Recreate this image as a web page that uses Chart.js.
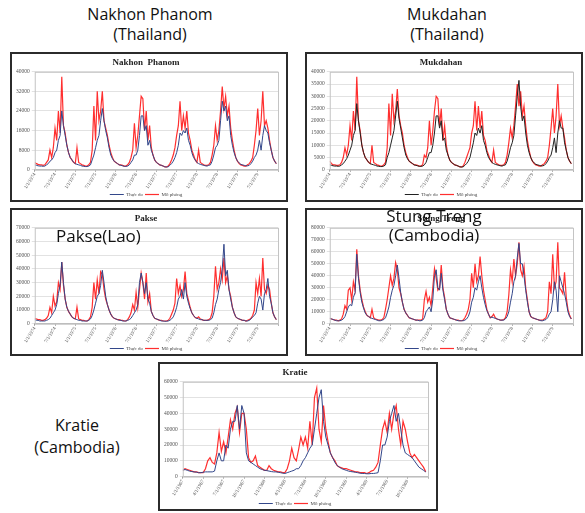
<!DOCTYPE html>
<html>
<head>
<meta charset="utf-8">
<script src="https://cdn.jsdelivr.net/npm/chart.js@4.4.1/dist/chart.umd.min.js"></script>
<style>
	body { margin: 0; background: #fff; width: 585px; height: 513px; position: relative; overflow: hidden; }
	.panel { position: absolute; box-sizing: border-box; border: 2px solid #2b2b2b; background: #fff; }
	.inner { position: relative; width: 100%; height: 100%; }
	.label { position: absolute; font-family: 'Open Sans', sans-serif; color: #111; text-align: center; white-space: nowrap; }
</style>
</head>
<body>

<div class="label" style="left:50px;top:4px;width:200px;font-size:16px;line-height:20px">Nakhon Phanom<br>(Thailand)</div>
<div class="label" style="left:347px;top:4px;width:200px;font-size:16px;line-height:20px">Mukdahan<br>(Thailand)</div>

<div class="panel" style="left:10px;top:52px;width:278px;height:150px"><div class="inner"><canvas id="nakhon"></canvas></div></div>
<div class="panel" style="left:305px;top:52px;width:278px;height:150px"><div class="inner"><canvas id="mukdahan"></canvas></div></div>
<div class="panel" style="left:10px;top:208px;width:278px;height:148px"><div class="inner"><canvas id="pakse"></canvas></div></div>
<div class="panel" style="left:305px;top:208px;width:278px;height:148px"><div class="inner"><canvas id="stungtreng"></canvas></div></div>
<div class="panel" style="left:158px;top:362px;width:280px;height:149px"><div class="inner"><canvas id="kratie"></canvas></div></div>

<div class="label" style="left:56px;top:225px;font-size:17px;line-height:22px;text-align:left">Pakse(Lao)</div>
<div class="label" style="left:334px;top:206px;width:200px;font-size:17px;line-height:19px">Stung Treng<br>(Cambodia)</div>
<div class="label" style="left:17px;top:414px;width:120px;font-size:16px;line-height:22px">Kratie<br>(Cambodia)</div>

<script>
// discharge in thousand m3/s, two points per month, 1974-1979
const halfMonthTicks = ['1/1/1974', '7/1/1974', '1/1/1975', '7/1/1975', '1/1/1976', '7/1/1976',
	'1/1/1977', '7/1/1977', '1/1/1978', '7/1/1978', '1/1/1979', '7/1/1979'];
const kratieTicks = ['1/1/1967', '4/1/1967', '7/1/1967', '10/1/1967', '1/1/1968', '4/1/1968',
	'7/1/1968', '10/1/1968', '1/1/1969', '4/1/1969', '7/1/1969', '10/1/1969'];

const nakhonObs = [
	2, 1.8, 1.6, 1.5, 1.5, 1.4, 1.5, 2, 2.5, 3.5, 4, 5, 7, 8, 12, 14, 24, 18, 14, 10, 7, 5, 4, 3,
	2.5, 2.2, 2, 1.8, 1.5, 1.4, 1.3, 1.3, 1.5, 2, 4, 6, 9, 12, 14, 20, 25, 20, 16, 13, 9, 6, 4.5, 3.5,
	3, 2.5, 2, 1.8, 1.6, 1.4, 1.4, 1.5, 2, 3, 4, 6, 6, 8, 14, 22, 22, 16, 18, 10, 12, 8, 6, 4,
	3, 2.5, 2, 1.8, 1.5, 1.2, 1.1, 1.2, 1.8, 2.5, 3.5, 5, 7, 10, 15, 14, 16, 15, 17, 12, 10, 7, 5, 4,
	3, 2.5, 2.2, 2, 1.8, 1.6, 1.5, 1.8, 2, 3.5, 6, 9, 10, 12, 20, 28, 24, 26, 20, 22, 14, 10, 7, 5,
	3.5, 2.8, 2.2, 2, 1.8, 1.6, 1.6, 1.8, 2.5, 3.5, 5, 6, 8, 12, 8, 14, 18, 16, 15, 11, 8, 5, 3.5, 2.5
];
const nakhonSim = [
	3, 2.5, 2.2, 2, 2, 1.8, 2, 3, 4, 8, 5, 9, 17, 12, 24, 15, 38, 18, 15, 10, 7, 5, 4, 3,
	2.5, 9, 3, 2.5, 2, 1.8, 1.5, 1.5, 2, 3, 8, 26, 12, 32, 20, 24, 32, 20, 17, 14, 10, 7, 5, 3.5,
	3, 2.5, 2, 2, 1.8, 1.5, 1.5, 2, 3, 5, 8, 19, 9, 14, 22, 30, 29, 16, 24, 12, 18, 9, 6, 4,
	3, 2.5, 2, 1.8, 1.5, 1.2, 1.2, 1.5, 2.5, 4, 6, 9, 14, 18, 28, 16, 22, 17, 24, 15, 12, 8, 6, 4,
	3, 8, 3, 2.5, 2, 1.8, 1.8, 2, 3, 6, 10, 18, 12, 16, 24, 34, 25, 30, 22, 26, 17, 12, 8, 5,
	3.5, 2.5, 2, 1.8, 1.5, 1.5, 2, 2.5, 3.5, 5, 10, 16, 25, 14, 20, 32, 18, 20, 17, 12, 8, 5, 3.5, 2.5
];

const mukdahanObs = [
	2, 1.8, 1.6, 1.5, 1.5, 1.4, 1.5, 2, 2.5, 3.5, 4.5, 6, 8, 10, 14, 16, 27, 20, 15, 10, 7, 5, 4, 3,
	2.5, 2.2, 2, 1.8, 1.5, 1.4, 1.3, 1.3, 1.5, 2, 5, 7, 10, 13, 16, 22, 28, 21, 17, 13, 9, 6, 4.5, 3.5,
	3, 2.5, 2, 1.8, 1.6, 1.4, 1.4, 1.5, 2, 3, 5, 7, 7, 10, 15, 22, 22, 17, 20, 12, 13, 8, 6, 4,
	3, 2.5, 2, 1.8, 1.5, 1.2, 1.1, 1.2, 1.8, 2.5, 3.5, 5, 8, 11, 15, 14, 17, 15, 18, 12, 10, 7, 5, 4,
	3, 2.5, 2.2, 2, 1.8, 1.6, 1.5, 1.8, 2, 3.5, 6, 9, 11, 14, 22, 30, 36.5, 26, 20, 22, 15, 10, 7, 5,
	3.5, 2.8, 2.2, 2, 1.8, 1.6, 1.6, 1.8, 2.5, 3.5, 5, 6, 9, 13, 7, 15, 20, 17, 17, 11, 8, 5, 3.5, 2.5
];
const mukdahanSim = [
	3.5, 2.5, 2, 2, 1.8, 1.8, 2, 3, 5, 9, 6, 10, 18, 12, 24, 16, 38, 20, 16, 10, 7, 5, 4, 3,
	2.5, 10, 3, 2.5, 2, 1.8, 1.5, 1.5, 2, 3, 9, 27, 14, 31, 20, 24, 33, 22, 18, 15, 10, 7, 5, 3.5,
	3, 2.5, 2, 2, 1.8, 1.5, 1.5, 2, 6, 5, 9, 20, 10, 16, 24, 30, 29, 18, 25, 12, 18, 10, 6, 4,
	3, 2.5, 2, 1.8, 1.5, 1.2, 1.2, 1.5, 3, 5, 7, 9, 15, 18, 28, 16, 26, 17, 24, 14, 12, 8, 6, 4,
	3, 8, 3, 2.5, 2, 1.8, 1.8, 2, 3, 6, 11, 17, 13, 18, 26, 35, 26, 32, 22, 26, 18, 12, 8, 5,
	3.5, 2.5, 2, 1.8, 1.5, 1.5, 2, 2.5, 3.5, 5, 10, 17, 25, 15, 22, 35, 18, 22, 17, 13, 8, 5, 3.5, 2.5
];

const pakseObs = [
	3, 2.5, 2.5, 2, 2, 2, 2, 2.5, 3, 4, 6, 8, 10, 14, 22, 28, 45, 30, 18, 12, 9, 7, 5, 4,
	3.5, 3, 2.5, 2.5, 2, 2, 2, 2, 2.5, 3.5, 6, 10, 15, 20, 22, 28, 39, 30, 20, 14, 10, 7, 5, 4,
	3.5, 3, 2.5, 2.5, 2, 2, 2, 2.5, 3, 4, 6, 8, 10, 14, 30, 37, 30, 22, 30, 18, 15, 9, 6, 4,
	3.5, 3, 2.5, 2, 2, 1.8, 1.8, 2, 2.5, 3.5, 5, 8, 12, 18, 20, 25, 18, 30, 20, 15, 11, 8, 6, 4.5,
	4, 3.5, 3, 3, 2.5, 2.5, 2.5, 2.5, 3, 4, 8, 14, 18, 25, 30, 40, 58, 35, 39, 25, 18, 12, 8, 5,
	4, 3.5, 3, 2.5, 2.5, 2, 2, 2.5, 3.5, 5, 6, 8, 15, 20, 18, 10, 22, 25, 33, 20, 15, 8, 5, 3
];
const pakseSim = [
	4, 3.5, 3, 3, 2.5, 2.5, 3, 4, 6, 12, 8, 20, 13, 16, 30, 25, 45, 28, 18, 12, 9, 7, 5, 4,
	3.5, 12, 3.5, 3, 2.5, 2.5, 2, 2, 3, 5, 12, 30, 18, 32, 22, 38, 36, 25, 18, 14, 10, 7, 5, 4,
	3.5, 3, 3, 2.5, 2.5, 2, 2, 3, 5, 8, 14, 10, 23, 12, 25, 37, 30, 18, 37, 16, 22, 9, 6, 4,
	3.5, 3, 2.5, 2.5, 2, 2, 2, 2.5, 4, 7, 10, 15, 33, 22, 28, 20, 25, 38, 22, 17, 12, 8, 6, 4.5,
	4, 5, 3.5, 3, 2.5, 2.5, 2.5, 3, 4, 8, 20, 42, 25, 30, 40, 32, 48, 30, 35, 25, 20, 12, 8, 5,
	4, 3.5, 3, 2.5, 2.5, 2, 2.5, 3, 4, 6, 10, 30, 22, 33, 20, 48, 25, 22, 28, 25, 15, 8, 5, 3
];

const stungObs = [
	4.5, 4, 3.5, 3, 2.5, 2.5, 2.5, 3, 4, 6, 10, 14, 16, 15, 22, 26, 58, 38, 26, 18, 13, 9, 7, 6,
	5, 4.5, 4, 3.5, 3, 2.5, 2.5, 3, 3.5, 5, 9, 14, 22, 28, 32, 40, 49, 38, 26, 18, 12, 9, 7, 5,
	4.5, 4, 3.5, 3, 3, 2.5, 2.5, 3, 5, 10, 12, 14, 10, 20, 40, 45, 30, 28, 42, 28, 20, 12, 8, 5,
	4.5, 4, 3.5, 3, 2.5, 2.5, 2.5, 2.5, 3, 4, 6, 10, 18, 22, 30, 28, 35, 40, 30, 22, 16, 11, 8, 5,
	5.5, 5, 4.5, 4, 3.5, 3, 3, 3, 4, 6, 10, 18, 25, 35, 40, 55, 67, 50, 50, 40, 28, 18, 10, 6,
	5, 4.5, 4, 3.5, 3, 2.5, 2.5, 3, 3.5, 5, 8, 10, 20, 35, 28, 10, 40, 35, 30, 25, 18, 10, 6, 4
];
const stungSim = [
	4.5, 4, 3.5, 3, 3, 2.5, 3, 4, 8, 15, 12, 28, 30, 20, 35, 28, 62, 40, 28, 20, 14, 10, 7, 6,
	5, 12, 5, 4, 3.5, 3, 3, 3.5, 5, 12, 20, 30, 40, 32, 38, 51, 45, 30, 25, 18, 12, 9, 7, 5,
	4.5, 4, 3.5, 3, 3, 3, 3, 4, 20, 27, 18, 22, 15, 30, 46, 38, 28, 30, 49, 30, 22, 12, 8, 5,
	4.5, 4, 3.5, 3, 3, 2.5, 2.5, 3, 5, 8, 12, 20, 42, 30, 50, 35, 40, 56, 40, 28, 20, 12, 8, 5,
	6, 8, 5, 4, 3.5, 3, 3, 3.5, 5, 10, 24, 45, 35, 54, 40, 50, 68, 45, 40, 48, 30, 20, 10, 6,
	5, 4.5, 4, 3.5, 3, 3, 3, 4, 5, 10, 35, 25, 58, 30, 35, 68, 30, 28, 25, 43, 22, 12, 7, 4
];

// Kratie, three points per month, 1967-1969
const kratieObs = [
	4, 4.5, 4, 3.5, 3.2, 3, 2.8, 2.5, 2.5, 2.8, 3, 3,
	3, 3, 3.5, 10, 15, 10, 10, 20, 18, 30, 35, 35,
	45, 30, 45, 40, 15, 10, 9, 8, 7, 6, 5, 4.5,
	4, 3.8, 3.5, 3.2, 3, 3, 2.8, 2.5, 2.2, 2, 2.5, 3,
	3.5, 4, 5, 5, 7, 10, 12, 15, 18, 20, 30, 40,
	50, 55, 35, 25, 20, 15, 12, 9, 7, 6, 5, 4.5,
	4, 3.5, 3.2, 3, 2.8, 2.5, 2.2, 2, 2, 1.8, 1.8, 2,
	2, 2.2, 2.5, 10, 20, 20, 25, 35, 40, 45, 35, 40,
	30, 20, 15, 14, 13, 12, 10, 8, 6, 5, 4, 3
];
const kratieSim = [
	4, 5, 4.5, 4, 3.5, 3, 3, 2.5, 2.5, 2.5, 5, 10,
	12, 9, 8, 15, 28, 16, 22, 15, 25, 36, 30, 40,
	44, 28, 40, 40, 30, 12, 9, 10, 13, 7, 6, 5,
	4, 4, 7, 5, 4, 3.5, 3, 3, 2.5, 2.5, 5, 10,
	18, 12, 10, 17, 25, 20, 25, 18, 35, 20, 50, 56,
	30, 22, 45, 30, 22, 15, 12, 10, 7, 6, 5.5, 5,
	5, 4.5, 4, 3.5, 3, 3, 2.5, 2.5, 2.5, 2, 2.5, 3.5,
	4, 6, 9, 20, 30, 35, 28, 40, 30, 40, 45, 30,
	20, 35, 30, 22, 15, 12, 14, 12, 10, 8, 6, 3
];

const plotFrame = {
	id: 'plotFrame',
	afterDraw(chart) {
		const {ctx, chartArea: a} = chart;
		ctx.save();
		ctx.strokeStyle = '#c4c4c4';
		ctx.lineWidth = 1;
		ctx.strokeRect(a.left + 0.5, a.top + 0.5, a.right - a.left, a.bottom - a.top);
		ctx.restore();
	}
};

const tinyFont = {size: 5.5, family: 'Liberation Serif'};

function river_chart(id, title, obs, sim, o) {
	new Chart(document.getElementById(id), {
		type: 'line',
		data: {
			datasets: [{
				label: 'Thực đo',
				data: obs.map((v, i) => ({x: i * o.step, y: v * 1000})),
				borderColor: o.obsColor,
				borderWidth: 1,
				pointRadius: 0,
			}, {
				label: 'Mô phỏng',
				data: sim.map((v, i) => ({x: i * o.step, y: v * 1000})),
				borderColor: 'rgba(255, 10, 10, 0.85)',
				borderWidth: 1.2,
				pointRadius: 0,
			}]
		},
		options: {
			animation: false,
			responsive: true,
			maintainAspectRatio: false,
			layout: {
				padding: {left: 2, right: 8, top: 0, bottom: 1}
			},
			scales: {
				x: {
					type: 'linear',
					min: 0,
					max: o.xMax,
					grid: {display: true, drawOnChartArea: false, tickLength: 2, color: '#999'},
					border: {color: '#bbb'},
					ticks: {
						stepSize: o.tickStep,
						autoSkip: false,
						minRotation: 58,
						maxRotation: 58,
						padding: 0,
						color: '#555',
						font: {size: 5, family: 'Liberation Serif'},
						callback: function (value) {
							return o.ticks[Math.round(value / o.tickStep)] || '';
						}
					}
				},
				y: {
					min: 0,
					max: o.yMax,
					grid: {color: '#e2e2e2', tickLength: 3},
					border: {display: false},
					ticks: {
						stepSize: o.yStep,
						padding: 2,
						color: '#555',
						font: tinyFont,
						callback: function (value) {
							return String(value);
						}
					}
				}
			},
			plugins: {
				title: {
					display: true,
					text: title,
					color: '#222',
					font: {size: 9, weight: 'bold', family: 'Liberation Serif'},
					padding: {top: 3, bottom: 4}
				},
				legend: {
					position: 'bottom',
					maxHeight: 9,
					labels: {
						usePointStyle: true,
						pointStyle: 'line',
						pointStyleWidth: 14,
						boxHeight: 4,
						padding: 2,
						color: '#444',
						font: {size: 5, family: 'Liberation Serif'}
					}
				},
				tooltip: {enabled: false}
			}
		},
		plugins: [plotFrame]
	});
}

const topOpts = {step: 0.5, xMax: 72, tickStep: 6, ticks: halfMonthTicks};

river_chart('nakhon', 'Nakhon  Phanom', nakhonObs, nakhonSim,
	{...topOpts, yMax: 40000, yStep: 8000, obsColor: '#33478a'});
river_chart('mukdahan', 'Mukdahan', mukdahanObs, mukdahanSim,
	{...topOpts, yMax: 40000, yStep: 5000, obsColor: '#222222'});
river_chart('pakse', 'Pakse', pakseObs, pakseSim,
	{...topOpts, yMax: 70000, yStep: 10000, obsColor: '#33478a'});
river_chart('stungtreng', 'Stung Treng', stungObs, stungSim,
	{...topOpts, yMax: 80000, yStep: 10000, obsColor: '#33478a'});
river_chart('kratie', 'Kratie', kratieObs, kratieSim,
	{step: 1 / 3, xMax: 36, tickStep: 3, ticks: kratieTicks, yMax: 60000, yStep: 10000, obsColor: '#33478a'});
</script>
</body>
</html>
